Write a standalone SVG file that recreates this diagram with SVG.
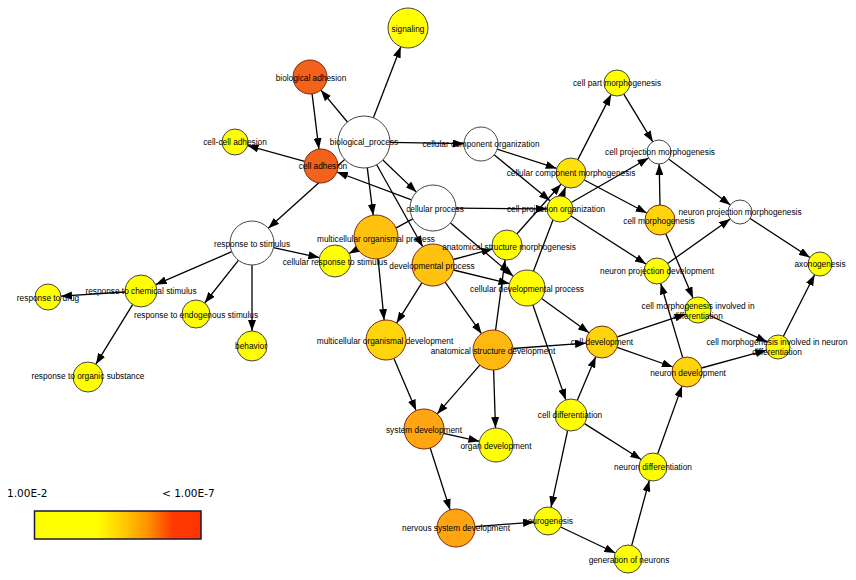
<svg xmlns="http://www.w3.org/2000/svg" width="856" height="580" viewBox="0 0 856 580">
<style>
.e{stroke:#000;stroke-width:1.3;fill:none;marker-end:url(#ah)}
.n circle{stroke:#444;stroke-width:1}
.w{fill:#fff}
.y{fill:#ffff00}
.g1{fill:#ffe208}
.g2{fill:#ffd40a}
.g3{fill:#ffc20e}
.g4{fill:#ffb80f}
.g5{fill:#ffa512}
.r{fill:#f2621a}
.o{stroke:#7a2a10 !important}
text{font-family:"Liberation Sans",Arial,sans-serif;font-size:8.3px;fill:#000;text-anchor:middle}
.lg{font-family:"DejaVu Sans",Verdana,sans-serif;font-size:10.5px;text-anchor:start}
</style>
<defs>
<marker id="ah" markerUnits="userSpaceOnUse" markerWidth="11" markerHeight="8" refX="11" refY="4" orient="auto">
<path d="M0,0 L11,4 L0,8 z" fill="#000"/>
</marker>
<linearGradient id="lgd" x1="0" y1="0" x2="1" y2="0">
<stop offset="0" stop-color="#ffff00"/>
<stop offset="0.38" stop-color="#ffff00"/>
<stop offset="0.55" stop-color="#ffc400"/>
<stop offset="0.68" stop-color="#ff9200"/>
<stop offset="0.83" stop-color="#ff3a00"/>
<stop offset="1" stop-color="#ff3300"/>
</linearGradient>
</defs>
<rect width="856" height="580" fill="#fff"/>
<g id="connectors">
<line class="e" x1="373.4" y1="117.7" x2="400.8" y2="46.7"/>
<line class="e" x1="347.4" y1="122" x2="320.9" y2="90.1"/>
<line class="e" x1="312.1" y1="93.9" x2="318.9" y2="149.1"/>
<line class="e" x1="304.6" y1="161.4" x2="247.5" y2="145.5"/>
<line class="e" x1="390" y1="142.4" x2="464" y2="143.7"/>
<line class="e" x1="382.8" y1="160" x2="416.4" y2="192.1"/>
<line class="e" x1="367.3" y1="167.8" x2="373.2" y2="215.2"/>
<line class="e" x1="376.7" y1="164.7" x2="422.7" y2="246.7"/>
<line class="e" x1="344.7" y1="159.4" x2="268.3" y2="228.3"/>
<line class="e" x1="411.5" y1="199.9" x2="336.9" y2="172"/>
<line class="e" x1="412.8" y1="218.9" x2="349.1" y2="253.4"/>
<line class="e" x1="456" y1="208.2" x2="547" y2="208.9"/>
<line class="e" x1="450.5" y1="222.9" x2="513.3" y2="276.3"/>
<line class="e" x1="231.8" y1="251.7" x2="155.7" y2="284.6"/>
<line class="e" x1="238.4" y1="260.3" x2="204.7" y2="303"/>
<line class="e" x1="252" y1="265" x2="252" y2="331"/>
<line class="e" x1="273.5" y1="247.7" x2="319.4" y2="257.6"/>
<line class="e" x1="125" y1="292" x2="61" y2="296.2"/>
<line class="e" x1="132.6" y1="304.6" x2="95.9" y2="364.2"/>
<line class="e" x1="497.2" y1="149.2" x2="556.7" y2="168.4"/>
<line class="e" x1="494.1" y1="154.8" x2="550" y2="200.7"/>
<line class="e" x1="577.8" y1="159.6" x2="611.1" y2="94.6"/>
<line class="e" x1="623.8" y1="94.1" x2="652.8" y2="141.8"/>
<line class="e" x1="571.3" y1="202.5" x2="648.6" y2="158"/>
<line class="e" x1="584.3" y1="180" x2="646.7" y2="213"/>
<line class="e" x1="660" y1="205" x2="659.2" y2="164"/>
<line class="e" x1="668.6" y1="159.1" x2="730.4" y2="204.9"/>
<line class="e" x1="750.1" y1="218.5" x2="809.9" y2="257.5"/>
<line class="e" x1="571" y1="216" x2="646" y2="264"/>
<line class="e" x1="667.6" y1="263.5" x2="730.2" y2="219"/>
<line class="e" x1="665.8" y1="233.8" x2="693" y2="298"/>
<line class="e" x1="709.8" y1="315.5" x2="767.1" y2="342"/>
<line class="e" x1="783.4" y1="336.3" x2="814.6" y2="274.7"/>
<line class="e" x1="617.2" y1="336.9" x2="685.7" y2="314.1"/>
<line class="e" x1="617.1" y1="347.3" x2="672.9" y2="367"/>
<line class="e" x1="682.7" y1="357.6" x2="660.7" y2="283.5"/>
<line class="e" x1="701.5" y1="368" x2="766.4" y2="350.2"/>
<line class="e" x1="541.6" y1="298.5" x2="589" y2="332.7"/>
<line class="e" x1="512.9" y1="348.5" x2="586" y2="343.2"/>
<line class="e" x1="453.3" y1="259.5" x2="492.5" y2="248.9"/>
<line class="e" x1="453.4" y1="270" x2="509.5" y2="283.7"/>
<line class="e" x1="445.1" y1="282.2" x2="481.5" y2="333.7"/>
<line class="e" x1="421.8" y1="282.8" x2="396.6" y2="323.1"/>
<line class="e" x1="378.1" y1="258.9" x2="384.1" y2="320.1"/>
<line class="e" x1="495.6" y1="330.2" x2="505" y2="259.9"/>
<line class="e" x1="517" y1="233.8" x2="561" y2="184.2"/>
<line class="e" x1="533.4" y1="271.2" x2="565.6" y2="187"/>
<line class="e" x1="532.9" y1="305" x2="565.8" y2="399.9"/>
<line class="e" x1="577.3" y1="400.3" x2="595.7" y2="356.7"/>
<line class="e" x1="584.5" y1="423.6" x2="641.2" y2="459.5"/>
<line class="e" x1="567.6" y1="430.6" x2="551" y2="507.3"/>
<line class="e" x1="560.6" y1="527" x2="615.4" y2="553"/>
<line class="e" x1="631.7" y1="545.5" x2="649.3" y2="480.5"/>
<line class="e" x1="657.7" y1="453.8" x2="682" y2="386.1"/>
<line class="e" x1="474.9" y1="526.6" x2="534" y2="522.1"/>
<line class="e" x1="430.2" y1="448" x2="450.1" y2="509.9"/>
<line class="e" x1="443.5" y1="433.3" x2="479.4" y2="441.3"/>
<line class="e" x1="493.6" y1="370" x2="495.5" y2="428"/>
<line class="e" x1="393.9" y1="358.4" x2="416.1" y2="410.6"/>
<line class="e" x1="479.8" y1="365.1" x2="437.2" y2="413.9"/>
</g>
<g id="n-signaling" class="n"><circle class="y" cx="408" cy="28" r="20"/><text x="408" y="31.5">signaling</text></g>
<g id="n-biological-adhesion" class="n"><circle class="r o" cx="310" cy="77" r="17"/><text x="311" y="80.5">biological adhesion</text></g>
<g id="n-cell-cell-adhesion" class="n"><circle class="y" cx="235" cy="142" r="13"/><text x="235" y="144.5">cell-cell adhesion</text></g>
<g id="n-biological-process" class="n"><circle class="w" cx="364" cy="142" r="26"/><text x="364" y="144.5">biological_process</text></g>
<g id="n-cellular-component-organization" class="n"><circle class="w" cx="481" cy="144" r="17"/><text x="481" y="146.5">cellular component organization</text></g>
<g id="n-cell-adhesion" class="n"><circle class="r o" cx="321" cy="166" r="17"/><text x="323" y="168.5">cell adhesion</text></g>
<g id="n-cellular-process" class="n"><circle class="w" cx="433" cy="208" r="23"/><text x="435" y="211.5">cellular process</text></g>
<g id="n-cellular-component-morphogenesis" class="n"><circle class="g1" cx="571" cy="173" r="15"/><text x="571" y="175.5">cellular component morphogenesis</text></g>
<g id="n-cell-part-morphogenesis" class="n"><circle class="y" cx="617" cy="83" r="13"/><text x="617" y="85.5">cell part morphogenesis</text></g>
<g id="n-cell-projection-morphogenesis" class="n"><circle class="w" cx="659" cy="152" r="12"/><text x="660" y="154.5">cell projection morphogenesis</text></g>
<g id="n-cell-projection-organization" class="n"><circle class="y" cx="560" cy="209" r="13"/><text x="556" y="211.5">cell projection organization</text></g>
<g id="n-cell-morphogenesis" class="n"><circle class="g2 o" cx="660" cy="220" r="15"/><text x="659" y="223.5">cell morphogenesis</text></g>
<g id="n-neuron-projection-morphogenesis" class="n"><circle class="w" cx="740" cy="212" r="12"/><text x="740" y="214.5">neuron projection morphogenesis</text></g>
<g id="n-axonogenesis" class="n"><circle class="y" cx="820" cy="264" r="12"/><text x="820" y="266.5">axonogenesis</text></g>
<g id="n-neuron-projection-development" class="n"><circle class="y" cx="657" cy="271" r="13"/><text x="657" y="273.5">neuron projection development</text></g>
<g id="n-cell-morphogenesis-involved-in-differentiation" class="n"><circle class="y" cx="698" cy="310" r="13"/><text x="698" y="308.5">cell morphogenesis involved in</text><text x="698" y="318.5">differentiation</text></g>
<g id="n-cell-morphogenesis-involved-in-neuron-differentiation" class="n"><circle class="y" cx="778" cy="347" r="12"/><text x="777" y="344.5">cell morphogenesis involved in neuron</text><text x="777" y="354.5">differentiation</text></g>
<g id="n-cell-development" class="n"><circle class="g2 o" cx="602" cy="342" r="16"/><text x="602" y="344.5">cell development</text></g>
<g id="n-neuron-development" class="n"><circle class="g2 o" cx="687" cy="372" r="15"/><text x="688" y="375.5">neuron development</text></g>
<g id="n-response-to-stimulus" class="n"><circle class="w" cx="252" cy="243" r="22"/><text x="252" y="246.5">response to stimulus</text></g>
<g id="n-response-to-chemical-stimulus" class="n"><circle class="y" cx="141" cy="291" r="16"/><text x="141" y="293.5">response to chemical stimulus</text></g>
<g id="n-response-to-drug" class="n"><circle class="y" cx="48" cy="297" r="13"/><text x="48" y="300.5">response to drug</text></g>
<g id="n-response-to-endogenous-stimulus" class="n"><circle class="y" cx="196" cy="314" r="14"/><text x="196" y="317.5">response to endogenous stimulus</text></g>
<g id="n-behavior" class="n"><circle class="y" cx="252" cy="346" r="15"/><text x="251" y="348.5">behavior</text></g>
<g id="n-response-to-organic-substance" class="n"><circle class="y" cx="88" cy="377" r="15"/><text x="88" y="378.5">response to organic substance</text></g>
<g id="n-cellular-response-to-stimulus" class="n"><circle class="y" cx="335" cy="261" r="16"/><text x="335" y="264.5">cellular response to stimulus</text></g>
<g id="n-multicellular-organismal-process" class="n"><circle class="g3 o" cx="376" cy="237" r="22"/><text x="376" y="241.5">multicellular organismal process</text></g>
<g id="n-developmental-process" class="n"><circle class="g3 o" cx="433" cy="265" r="21"/><text x="432" y="268.5">developmental process</text></g>
<g id="n-anatomical-structure-morphogenesis" class="n"><circle class="y" cx="507" cy="245" r="15"/><text x="509" y="249.5">anatomical structure morphogenesis</text></g>
<g id="n-cellular-developmental-process" class="n"><circle class="y" cx="527" cy="288" r="18"/><text x="527" y="291.5">cellular developmental process</text></g>
<g id="n-multicellular-organismal-development" class="n"><circle class="g2 o" cx="386" cy="340" r="20"/><text x="385" y="343.5">multicellular organismal development</text></g>
<g id="n-anatomical-structure-development" class="n"><circle class="g4 o" cx="493" cy="350" r="20"/><text x="493" y="353.5">anatomical structure development</text></g>
<g id="n-system-development" class="n"><circle class="g5 o" cx="424" cy="429" r="20"/><text x="424" y="432.5">system development</text></g>
<g id="n-organ-development" class="n"><circle class="y" cx="496" cy="445" r="17"/><text x="496" y="448.5">organ development</text></g>
<g id="n-cell-differentiation" class="n"><circle class="y" cx="571" cy="415" r="16"/><text x="570" y="417.5">cell differentiation</text></g>
<g id="n-neuron-differentiation" class="n"><circle class="y" cx="653" cy="467" r="14"/><text x="653" y="469.5">neuron differentiation</text></g>
<g id="n-neurogenesis" class="n"><circle class="y" cx="548" cy="521" r="14"/><text x="548" y="523.5">neurogenesis</text></g>
<g id="n-generation-of-neurons" class="n"><circle class="y" cx="628" cy="559" r="14"/><text x="629" y="562.5">generation of neurons</text></g>
<g id="n-nervous-system-development" class="n"><circle class="g5 o" cx="456" cy="528" r="19"/><text x="456" y="530.5">nervous system development</text></g>
<g id="legend">
<text class="lg" x="7" y="497">1.00E-2</text>
<text class="lg" x="162" y="497">&lt; 1.00E-7</text>
<rect x="34.5" y="511" width="166.5" height="28" fill="url(#lgd)" stroke="#1a1a33" stroke-width="1.5"/>
</g>
</svg>
